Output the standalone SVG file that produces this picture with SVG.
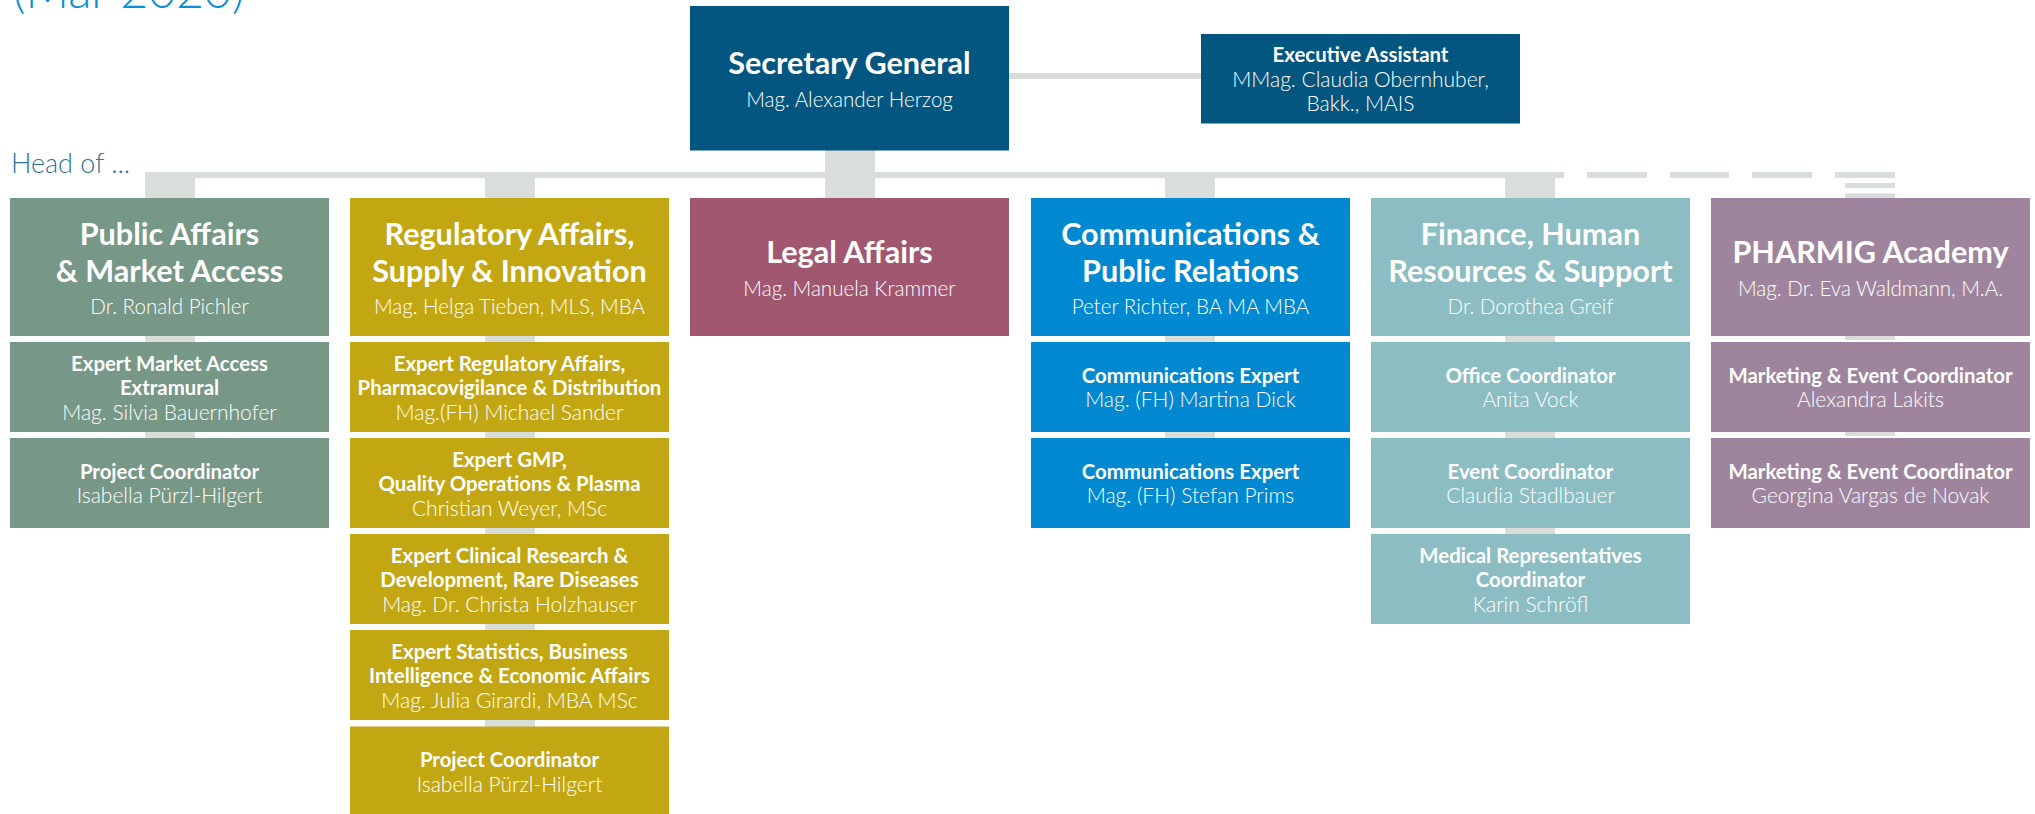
<svg xmlns="http://www.w3.org/2000/svg" width="2035" height="814" viewBox="0 0 2035 814">
<style>
text{font-family:Lato,"Liberation Sans",sans-serif;fill:#fff;text-anchor:middle}
.t{font-size:30.6px;font-weight:700}
.n{font-size:20.6px;font-weight:300}
.st{font-size:20.4px;font-weight:700}
.sn{font-size:21px;font-weight:300}
.c{fill:#d9dedb}
.g{fill:#779787}.m{fill:#c3a712}.l{fill:#a0576f}.b{fill:#0089d1}.tl{fill:#8bbdc3}.p{fill:#9e859d}.d{fill:#03567f}
</style>
<text x="13" y="8" style="font-size:48px;font-weight:300;fill:#0a8fd6;text-anchor:start">(Mar 2020)</text>
<text x="11" y="173" style="font-size:27px;font-weight:300;fill:#2f7399;text-anchor:start">Head of ...</text>
<g id="connectors">
<rect class="c" x="1009" y="73" width="192" height="6"/>
<rect class="c" x="145" y="172" width="1419" height="6"/>
<rect class="c" x="1587" y="172" width="60" height="6"/>
<rect class="c" x="1670" y="172" width="59" height="6"/>
<rect class="c" x="1752" y="172" width="60" height="6"/>
<rect class="c" x="1835" y="172" width="60" height="6"/>
<rect class="c" x="1845" y="183" width="50" height="5"/>
<rect class="c" x="1845" y="193.5" width="50" height="4.5"/>
<rect class="c" x="145" y="178" width="50" height="260"/>
<rect class="c" x="485" y="178" width="50" height="549"/>
<rect class="c" x="825" y="150" width="50" height="48"/>
<rect class="c" x="1165" y="178" width="50" height="260"/>
<rect class="c" x="1505" y="178" width="50" height="356"/>
<rect class="c" x="1845" y="336" width="50" height="4"/>
<rect class="c" x="1845" y="432" width="50" height="4"/>
</g>
<g id="secretary-general">
<rect class="d" x="690" y="6" width="319" height="144.5"/>
<text class="t" x="849.5" y="74">Secretary General</text>
<text class="n" x="849.5" y="107">Mag. Alexander Herzog</text>
</g>
<g id="executive-assistant">
<rect class="d" x="1201" y="34" width="319" height="89.5"/>
<text class="st" x="1360.5" y="62">Executive Assistant</text>
<text class="sn" x="1360.5" y="86.5">MMag. Claudia Obernhuber,</text>
<text class="sn" x="1360.5" y="111">Bakk., MAIS</text>
</g>
<g id="public-affairs">
<rect class="g" x="10" y="198" width="319" height="138"/>
<text class="t" x="169.5" y="245">Public Affairs</text>
<text class="t" x="169.5" y="282">&amp; Market Access</text>
<text class="n" x="169.5" y="314">Dr. Ronald Pichler</text>
</g>
<g id="pa-expert">
<rect class="g" x="10" y="342" width="319" height="90"/>
<text class="st" x="169.5" y="370.5">Expert Market Access</text>
<text class="st" x="169.5" y="395">Extramural</text>
<text class="sn" x="169.5" y="419.5">Mag. Silvia Bauernhofer</text>
</g>
<g id="pa-project">
<rect class="g" x="10" y="438" width="319" height="90"/>
<text class="st" x="169.5" y="478.75">Project Coordinator</text>
<text class="sn" x="169.5" y="503.25">Isabella Pürzl-Hilgert</text>
</g>
<g id="regulatory-affairs">
<rect class="m" x="350" y="198" width="319" height="138"/>
<text class="t" x="509.5" y="245">Regulatory Affairs,</text>
<text class="t" x="509.5" y="282">Supply &amp; Innovation</text>
<text class="n" x="509.5" y="314">Mag. Helga Tieben, MLS, MBA</text>
</g>
<g id="ra-expert-regulatory">
<rect class="m" x="350" y="342" width="319" height="90"/>
<text class="st" x="509.5" y="370.5">Expert Regulatory Affairs,</text>
<text class="st" x="509.5" y="395">Pharmacovigilance &amp; Distribution</text>
<text class="sn" x="509.5" y="419.5">Mag.(FH) Michael Sander</text>
</g>
<g id="ra-expert-gmp">
<rect class="m" x="350" y="438" width="319" height="90"/>
<text class="st" x="509.5" y="466.5">Expert GMP,</text>
<text class="st" x="509.5" y="491">Quality Operations &amp; Plasma</text>
<text class="sn" x="509.5" y="515.5">Christian Weyer, MSc</text>
</g>
<g id="ra-expert-clinical">
<rect class="m" x="350" y="534" width="319" height="90"/>
<text class="st" x="509.5" y="562.5">Expert Clinical Research &amp;</text>
<text class="st" x="509.5" y="587">Development, Rare Diseases</text>
<text class="sn" x="509.5" y="611.5">Mag. Dr. Christa Holzhauser</text>
</g>
<g id="ra-expert-statistics">
<rect class="m" x="350" y="630" width="319" height="90"/>
<text class="st" x="509.5" y="658.5">Expert Statistics, Business</text>
<text class="st" x="509.5" y="683">Intelligence &amp; Economic Affairs</text>
<text class="sn" x="509.5" y="707.5">Mag. Julia Girardi, MBA MSc</text>
</g>
<g id="ra-project">
<rect class="m" x="350" y="726.5" width="319" height="90"/>
<text class="st" x="509.5" y="767.25">Project Coordinator</text>
<text class="sn" x="509.5" y="791.75">Isabella Pürzl-Hilgert</text>
</g>
<g id="legal-affairs">
<rect class="l" x="690" y="198" width="319" height="138"/>
<text class="t" x="849.5" y="263">Legal Affairs</text>
<text class="n" x="849.5" y="296">Mag. Manuela Krammer</text>
</g>
<g id="communications">
<rect class="b" x="1031" y="198" width="319" height="138"/>
<text class="t" x="1190.5" y="245">Communications &amp;</text>
<text class="t" x="1190.5" y="282">Public Relations</text>
<text class="n" x="1190.5" y="314">Peter Richter, BA MA MBA</text>
</g>
<g id="comm-expert-1">
<rect class="b" x="1031" y="342" width="319" height="90"/>
<text class="st" x="1190.5" y="382.75">Communications Expert</text>
<text class="sn" x="1190.5" y="407.25">Mag. (FH) Martina Dick</text>
</g>
<g id="comm-expert-2">
<rect class="b" x="1031" y="438" width="319" height="90"/>
<text class="st" x="1190.5" y="478.75">Communications Expert</text>
<text class="sn" x="1190.5" y="503.25">Mag. (FH) Stefan Prims</text>
</g>
<g id="finance">
<rect class="tl" x="1371" y="198" width="319" height="138"/>
<text class="t" x="1530.5" y="245">Finance, Human</text>
<text class="t" x="1530.5" y="282">Resources &amp; Support</text>
<text class="n" x="1530.5" y="314">Dr. Dorothea Greif</text>
</g>
<g id="fin-office">
<rect class="tl" x="1371" y="342" width="319" height="90"/>
<text class="st" x="1530.5" y="382.75">Office Coordinator</text>
<text class="sn" x="1530.5" y="407.25">Anita Vock</text>
</g>
<g id="fin-event">
<rect class="tl" x="1371" y="438" width="319" height="90"/>
<text class="st" x="1530.5" y="478.75">Event Coordinator</text>
<text class="sn" x="1530.5" y="503.25">Claudia Stadlbauer</text>
</g>
<g id="fin-medical">
<rect class="tl" x="1371" y="534" width="319" height="90"/>
<text class="st" x="1530.5" y="562.5">Medical Representatives</text>
<text class="st" x="1530.5" y="587">Coordinator</text>
<text class="sn" x="1530.5" y="611.5">Karin Schröfl</text>
</g>
<g id="pharmig-academy">
<rect class="p" x="1711" y="198" width="319" height="138"/>
<text class="t" x="1870.5" y="263">PHARMIG Academy</text>
<text class="n" x="1870.5" y="296">Mag. Dr. Eva Waldmann, M.A.</text>
</g>
<g id="academy-marketing-1">
<rect class="p" x="1711" y="342" width="319" height="90"/>
<text class="st" x="1870.5" y="382.75">Marketing &amp; Event Coordinator</text>
<text class="sn" x="1870.5" y="407.25">Alexandra Lakits</text>
</g>
<g id="academy-marketing-2">
<rect class="p" x="1711" y="438" width="319" height="90"/>
<text class="st" x="1870.5" y="478.75">Marketing &amp; Event Coordinator</text>
<text class="sn" x="1870.5" y="503.25">Georgina Vargas de Novak</text>
</g>
</svg>
